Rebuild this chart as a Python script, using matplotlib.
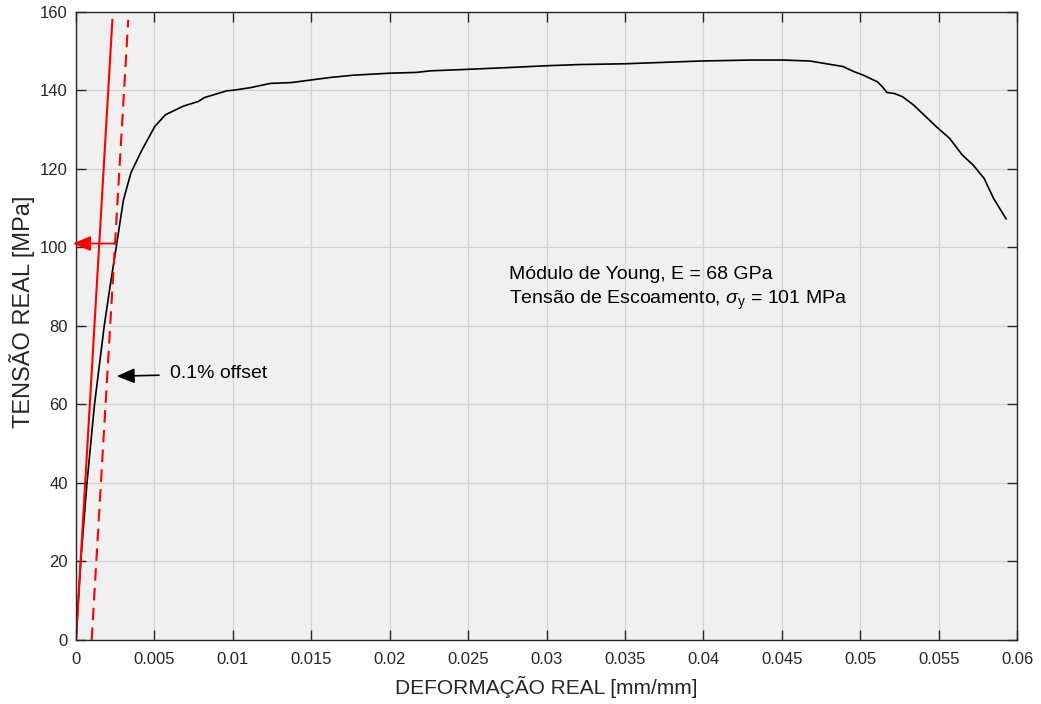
import matplotlib
matplotlib.use("Agg")
import matplotlib.pyplot as plt

plt.rcParams['font.family'] = ['Liberation Sans', 'DejaVu Sans']
plt.rcParams['mathtext.fontset'] = 'custom'
plt.rcParams['mathtext.rm'] = 'Liberation Sans'
plt.rcParams['mathtext.it'] = 'Liberation Sans:italic'

# curva tensao x deformacao
strain = [0, 0.0003, 0.0007, 0.00118, 0.0018, 0.00217, 0.0026, 0.00302, 0.0035,
          0.0042, 0.00502, 0.0057, 0.00684, 0.0078, 0.0082, 0.0096, 0.0101, 0.0111,
          0.0124, 0.0137, 0.0162, 0.0177, 0.0200, 0.0217, 0.0226, 0.0251, 0.0279,
          0.0300, 0.0321, 0.0350, 0.0398, 0.0430, 0.0451, 0.0468, 0.0474, 0.0489,
          0.0496, 0.0502, 0.0511, 0.0514, 0.0517, 0.0522, 0.0527, 0.0534, 0.0549,
          0.0557, 0.0565, 0.0572, 0.0579, 0.0585, 0.0593]
stress = [0, 20, 40, 60, 80, 90, 101, 112, 119,
          124.8, 130.8, 133.8, 136, 137.2, 138.2, 139.9, 140.1, 140.7,
          141.8, 142.0, 143.3, 143.9, 144.4, 144.6, 145.0, 145.4, 145.9,
          146.3, 146.6, 146.8, 147.5, 147.75, 147.75, 147.5, 147.1, 146.1,
          144.8, 143.9, 142.2, 141.0, 139.5, 139.2, 138.4, 136.3, 130.6,
          127.8, 123.6, 121.0, 117.6, 112.5, 107.3]

# reta elastica e reta com offset de 0.1%
elastic_x = [0, 0.00232]
elastic_y = [0, 158]
offset_x = [0.001, 0.00333]
offset_y = [0, 158]

yield_strain = 0.0026
yield_stress = 101

xticks = [0, 0.005, 0.01, 0.015, 0.02, 0.025, 0.03, 0.035, 0.04, 0.045, 0.05, 0.055, 0.06]
xticklabels = ['0', '0.005', '0.01', '0.015', '0.02', '0.025', '0.03', '0.035',
               '0.04', '0.045', '0.05', '0.055', '0.06']
yticks = [0, 20, 40, 60, 80, 100, 120, 140, 160]

dark = '#262626'
head = '-|>,head_length=0.9,head_width=0.38'

fig = plt.figure(figsize=(10.41, 7.04), dpi=100)
ax = fig.add_axes([0.073, 0.091, 0.904, 0.892])
ax.set_facecolor('#f0f0f0')

ax.plot(strain, stress, color='black', lw=1.2)
ax.plot(elastic_x, elastic_y, color='red', lw=1.5)
ax.plot(offset_x, offset_y, color='red', lw=1.5, dashes=(6, 3.5))

ax.annotate('', xy=(-0.0002, yield_stress), xytext=(yield_strain, yield_stress),
            arrowprops=dict(arrowstyle=head, color='red', lw=1.3,
                            shrinkA=0, shrinkB=0, mutation_scale=12),
            annotation_clip=False)

ax.annotate('0.1% offset', xy=(0.0026, 67.2), xytext=(0.006, 67.8),
            fontsize=14, va='center', ha='left', color='black',
            arrowprops=dict(arrowstyle=head, color='black', lw=1.2,
                            shrinkA=6, shrinkB=0, mutation_scale=12))

ax.text(0.0276, 93.0, 'Módulo de Young, E = 68 GPa', fontsize=14, va='center', ha='left')
ax.text(0.0276, 86.6, r'Tensão de Escoamento, $\sigma_\mathrm{y}$ = 101 MPa',
        fontsize=14, va='center', ha='left')

ax.set_xlim(0, 0.06)
ax.set_ylim(0, 160)
ax.set_xticks(xticks)
ax.set_xticklabels(xticklabels)
ax.set_yticks(yticks)

ax.grid(True, color='#d2d2d2', lw=0.9)
ax.set_axisbelow(True)
ax.tick_params(direction='in', length=7, width=1, colors=dark, labelsize=12,
               top=True, right=True)
ax.tick_params(axis='x', pad=9)
ax.tick_params(axis='y', pad=6)
for s in ax.spines.values():
    s.set_color(dark)
    s.set_linewidth(1)

ax.set_xlabel('DEFORMAÇÃO REAL [mm/mm]', fontsize=15, color=dark, labelpad=6)
ax.set_ylabel('TENSÃO REAL [MPa]', fontsize=17, color=dark)
ax.yaxis.set_label_coords(-0.044, 0.522)

fig.savefig('out.png', dpi=100, facecolor='white')
